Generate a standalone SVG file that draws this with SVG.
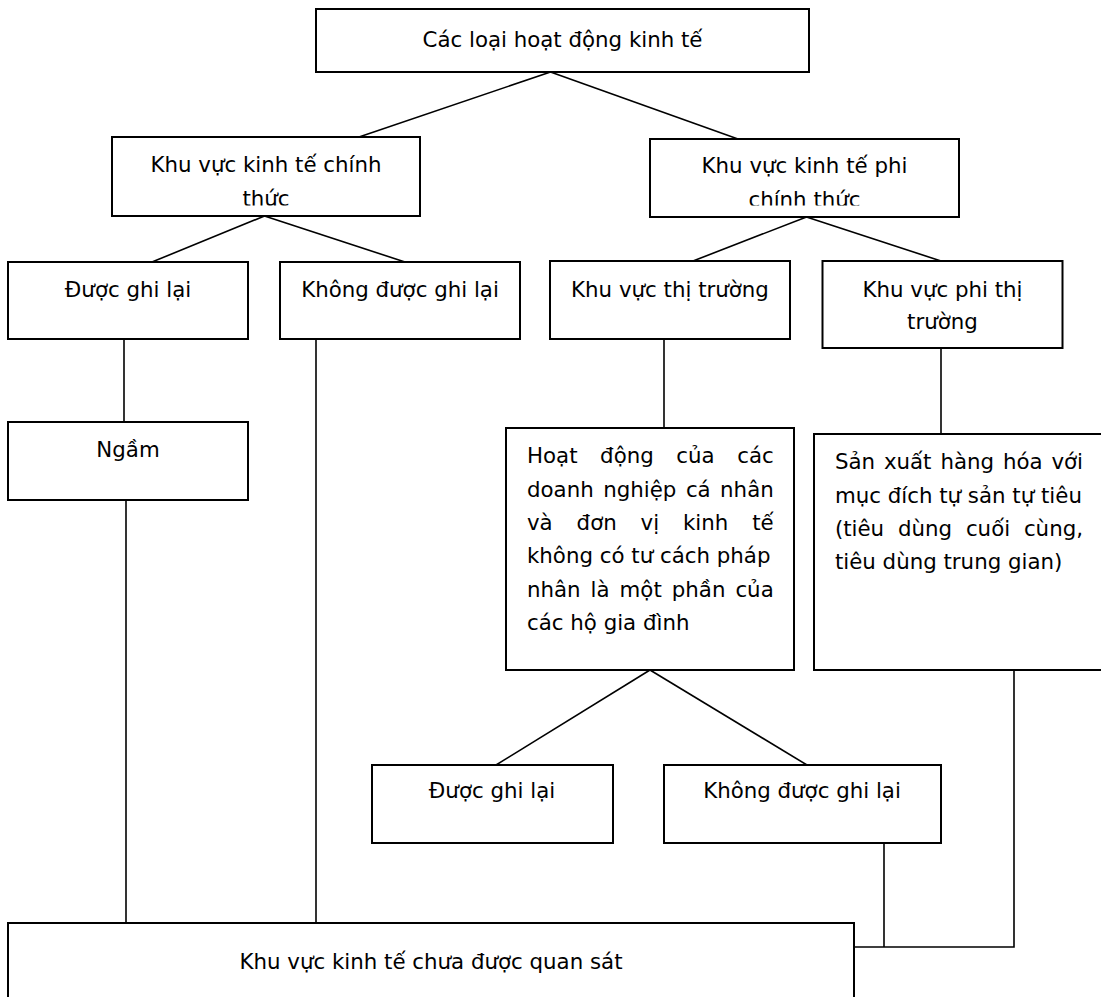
<svg xmlns="http://www.w3.org/2000/svg" width="1101" height="997" viewBox="0 0 1101 997">
<style>
.box{fill:#fff;stroke:#000;stroke-width:2}
.ln{fill:none;stroke:#000;stroke-width:1.6}
text{font-family:"DejaVu Sans",Verdana,sans-serif;font-size:21.33px;fill:#000}
.c{text-anchor:middle}
</style>
<defs>
<clipPath id="clipL"><rect x="112" y="137" width="308" height="68.5"/></clipPath>
<clipPath id="clipR"><rect x="650" y="139" width="309" height="66.5"/></clipPath>
</defs>
<rect width="1101" height="997" fill="#fff"/>
<g id="connectors">
<line class="ln" x1="550.5" y1="72" x2="359" y2="137"/>
<line class="ln" x1="550.5" y1="72" x2="738" y2="139"/>
<line class="ln" x1="264.5" y1="216" x2="152" y2="262"/>
<line class="ln" x1="264.5" y1="216" x2="405" y2="262"/>
<line class="ln" x1="806.5" y1="217" x2="693" y2="261"/>
<line class="ln" x1="806.5" y1="217" x2="941" y2="261"/>
<line class="ln" x1="124" y1="339" x2="124" y2="422"/>
<line class="ln" x1="126" y1="500" x2="126" y2="923"/>
<line class="ln" x1="316" y1="339" x2="316" y2="923"/>
<line class="ln" x1="664" y1="339" x2="664" y2="428"/>
<line class="ln" x1="941" y1="348" x2="941" y2="434"/>
<line class="ln" x1="650" y1="670" x2="496" y2="765"/>
<line class="ln" x1="650" y1="670" x2="807" y2="765"/>
<line class="ln" x1="884" y1="843" x2="884" y2="947"/>
<polyline class="ln" points="854,947 1014,947 1014,670"/>
</g>
<g id="n-top">
<rect class="box" x="316" y="9" width="493" height="63"/>
<text class="c" x="562.5" y="46.7">Các loại hoạt động kinh tế</text>
</g>
<g id="n-chinhthuc">
<rect class="box" x="112" y="137" width="308" height="79"/>
<text class="c" x="266" y="172.3">Khu vực kinh tế chính</text>
<text class="c" x="266" y="205.6" clip-path="url(#clipL)">thức</text>
</g>
<g id="n-phichinhthuc">
<rect class="box" x="650" y="139" width="309" height="78"/>
<text class="c" x="804.5" y="173.3">Khu vực kinh tế phi</text>
<text class="c" x="804.5" y="206.6" clip-path="url(#clipR)">chính thức</text>
</g>
<g id="n-duocghilai">
<rect class="box" x="8" y="262" width="240" height="77"/>
<text class="c" x="128" y="296.7">Được ghi lại</text>
</g>
<g id="n-khongduocghilai">
<rect class="box" x="280" y="262" width="240" height="77"/>
<text class="c" x="400" y="296.7">Không được ghi lại</text>
</g>
<g id="n-thitruong">
<rect class="box" x="550" y="261" width="240" height="78"/>
<text class="c" x="670" y="297">Khu vực thị trường</text>
</g>
<g id="n-phithitruong">
<rect class="box" x="822.5" y="261" width="240" height="87"/>
<text class="c" x="942.5" y="297">Khu vực phi thị</text>
<text class="c" x="942.5" y="329">trường</text>
</g>
<g id="n-ngam">
<rect class="box" x="8" y="422" width="240" height="78"/>
<text class="c" x="128" y="456.7">Ngầm</text>
</g>
<g id="n-hoatdong">
<rect class="box" x="506" y="428" width="288" height="242"/>
<text y="463.3"><tspan x="527">Hoạt</tspan><tspan x="600.1">động</tspan><tspan x="676.3">của</tspan><tspan x="737.2">các</tspan></text>
<text y="496.7"><tspan x="527">doanh</tspan><tspan x="603.2">nghiệp</tspan><tspan x="685.9">cá</tspan><tspan x="720.1">nhân</tspan></text>
<text y="530"><tspan x="527">và</tspan><tspan x="576.6">đơn</tspan><tspan x="640.6">vị</tspan><tspan x="683">kinh</tspan><tspan x="752.2">tế</tspan></text>
<text x="527" y="563.3">không có tư cách pháp</text>
<text y="596.7"><tspan x="527">nhân</tspan><tspan x="590.6">là</tspan><tspan x="619.6">một</tspan><tspan x="671.8">phần</tspan><tspan x="735.4">của</tspan></text>
<text x="527" y="630">các hộ gia đình</text>
</g>
<g id="n-sanxuat">
<rect class="box" x="814" y="434" width="300" height="236"/>
<text y="469.3"><tspan x="834.9">Sản</tspan><tspan x="883.9">xuất</tspan><tspan x="940.4">hàng</tspan><tspan x="1002.9">hóa</tspan><tspan x="1051.4">với</tspan></text>
<text x="834.9" y="502.6">mục đích tự sản tự tiêu</text>
<text y="535.9"><tspan x="834.9">(tiêu</tspan><tspan x="898">dùng</tspan><tspan x="965.9">cuối</tspan><tspan x="1023.9">cùng,</tspan></text>
<text x="834.9" y="569.2">tiêu dùng trung gian)</text>
</g>
<g id="n-duocghilai2">
<rect class="box" x="372" y="765" width="241" height="78"/>
<text class="c" x="492" y="798.3">Được ghi lại</text>
</g>
<g id="n-khongduocghilai2">
<rect class="box" x="664" y="765" width="277" height="78"/>
<text class="c" x="802" y="798.3">Không được ghi lại</text>
</g>
<g id="n-chuaquansat">
<rect class="box" x="8" y="923" width="846" height="90"/>
<text class="c" x="431" y="969">Khu vực kinh tế chưa được quan sát</text>
</g>
</svg>
